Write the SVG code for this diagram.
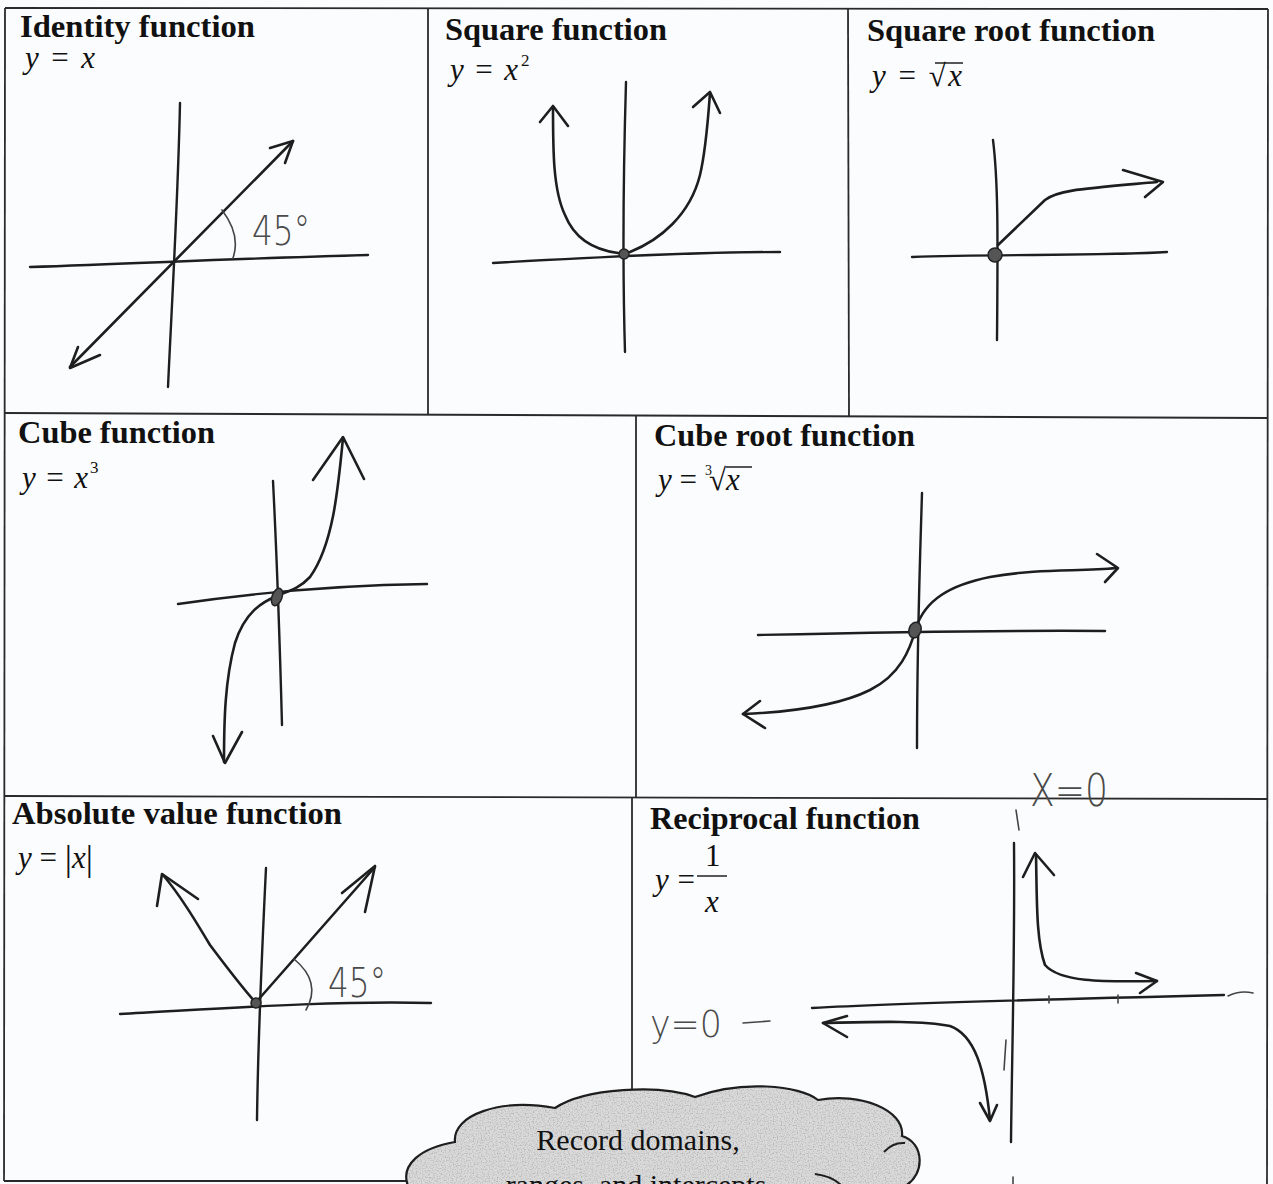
<svg xmlns="http://www.w3.org/2000/svg" width="1273" height="1184" viewBox="0 0 1273 1184">
<style>
.rule{fill:none;stroke:#2a2a2a;stroke-width:1.8}
.ax{fill:none;stroke:#1e1e1e;stroke-width:2.4;stroke-linecap:round;stroke-linejoin:round}
.cv{fill:none;stroke:#1e1e1e;stroke-width:2.6;stroke-linecap:round;stroke-linejoin:round}
.thin{fill:none;stroke:#444;stroke-width:1.6;stroke-linecap:round}
.title{font-family:"Liberation Serif",serif;font-weight:bold;font-size:31px;fill:#111}
.eq{font-family:"Liberation Serif",serif;font-size:31px;fill:#111}
.sm{font-size:17px}
.it{font-style:italic}
.hand{font-family:"DejaVu Sans",sans-serif;font-weight:200;fill:#4a4a4a}
.dot{fill:#555;stroke:#222;stroke-width:1.5}
.vin{stroke:#111;stroke-width:1.4}
</style>
<defs>
<filter id="grain" x="0" y="0" width="100%" height="100%">
<feTurbulence type="fractalNoise" baseFrequency="0.75" numOctaves="1" seed="7" result="n"/>
<feColorMatrix in="n" type="matrix" values="0 0 0 0 0.45  0 0 0 0 0.45  0 0 0 0 0.45  0 0 0 3.2 -1.5" result="d"/>
<feComposite in="d" in2="SourceGraphic" operator="in"/>
</filter>
</defs>
<rect width="1273" height="1184" fill="#fbfcfd"/>

<g id="grid">
<path class="rule" d="M5 8 L1268 9"/>
<path class="rule" d="M5 8 L4 1181"/>
<path class="rule" d="M1268 9 L1267 1184"/>
<path class="rule" d="M5 413 L1268 418"/>
<path class="rule" d="M4 796 L1268 799"/>
<path class="rule" d="M4 1181 L420 1181"/>
<path class="rule" d="M428 9 L428 415"/>
<path class="rule" d="M848 9 L849 417"/>
<path class="rule" d="M636 416 L636 798"/>
<path class="rule" d="M632 798 L632 1090"/>
</g>

<g id="identity">
<text class="title" x="20" y="37" textLength="235" lengthAdjust="spacingAndGlyphs">Identity function</text>
<text class="eq" x="25" y="68" textLength="70"><tspan class="it">y</tspan> = <tspan class="it">x</tspan></text>
<path class="ax" d="M180 103 C178 200 172 300 168 387"/>
<path class="ax" d="M30 267 C150 263 250 258 368 255"/>
<path class="cv" d="M70 367 L293 141"/>
<path class="cv" d="M270 148 L293 141 L285 163"/>
<path class="cv" d="M78 347 L70 368 L100 355"/>
<path class="thin" d="M222 210 Q241 235 233 258"/>
<text class="hand" x="252" y="245" font-size="40" textLength="58" lengthAdjust="spacingAndGlyphs">45°</text>
</g>

<g id="square">
<text class="title" x="445" y="40" textLength="222" lengthAdjust="spacingAndGlyphs">Square function</text>
<text class="eq" x="450" y="80" textLength="68"><tspan class="it">y</tspan> = <tspan class="it">x</tspan></text>
<text class="eq sm" x="521" y="66">2</text>
<path class="ax" d="M626 82 C624 150 622 250 625 352"/>
<path class="ax" d="M493 263 C580 258 700 252 780 252"/>
<path class="cv" d="M618 253 C595 250 575 240 565 215 C553 190 553 150 553 107"/>
<path class="cv" d="M540 122 L553 106 L568 126"/>
<path class="cv" d="M630 252 C660 240 690 215 700 175 C706 150 708 120 710 93"/>
<path class="cv" d="M693 107 L710 92 L720 113"/>
<circle class="dot" cx="624" cy="254" r="5"/>
</g>

<g id="squareroot">
<text class="title" x="867" y="41" textLength="288" lengthAdjust="spacingAndGlyphs">Square root function</text>
<text class="eq" x="872" y="86" textLength="90"><tspan class="it">y</tspan> = √<tspan class="it">x</tspan></text>
<path class="vin" d="M935 63 L963 63"/>
<path class="ax" d="M993 140 C998 180 998 230 997 340"/>
<path class="ax" d="M912 257 C1000 254 1100 256 1167 252"/>
<path class="cv" d="M998 245 L1045 200 C1058 190 1080 189 1157 182"/>
<path class="cv" d="M1123 170 L1163 182 L1145 197"/>
<circle class="dot" cx="995" cy="255" r="7"/>
</g>

<g id="cube">
<text class="title" x="18" y="443" textLength="197" lengthAdjust="spacingAndGlyphs">Cube function</text>
<text class="eq" x="22" y="488" textLength="66"><tspan class="it">y</tspan> = <tspan class="it">x</tspan></text>
<text class="eq sm" x="90" y="473">3</text>
<path class="ax" d="M273 481 C277 560 280 650 282 725"/>
<path class="ax" d="M178 604 C260 592 350 585 427 584"/>
<path class="cv" d="M343 438 C338 490 333 545 310 577 C298 590 285 592 277 596 C262 602 245 612 235 643 C225 680 224 720 224 762"/>
<path class="cv" d="M313 480 L343 437 L364 479"/>
<path class="cv" d="M213 736 L225 763 L242 732"/>
<ellipse class="dot" cx="277" cy="597" rx="5" ry="9" transform="rotate(20 277 597)"/>
</g>

<g id="cuberoot">
<text class="title" x="654" y="446" textLength="261" lengthAdjust="spacingAndGlyphs">Cube root function</text>
<text class="eq" x="658" y="490" textLength="39"><tspan class="it">y</tspan> =</text>
<text class="eq" x="705" y="475" style="font-size:14px">3</text>
<text class="eq" x="709" y="490"><tspan>√</tspan><tspan class="it">x</tspan></text>
<path class="vin" d="M726 467 L752 467"/>
<path class="ax" d="M922 493 C920 560 917 640 917 748"/>
<path class="ax" d="M758 635 C850 633 1000 630 1105 631"/>
<path class="cv" d="M743 714 C790 712 840 705 870 690 C900 675 910 650 916 628 C925 600 950 585 990 577 C1040 568 1080 572 1116 568"/>
<path class="cv" d="M1097 554 L1118 568 L1105 582"/>
<path class="cv" d="M760 701 L743 714 L765 728"/>
<ellipse class="dot" cx="915" cy="630" rx="6" ry="8" transform="rotate(20 915 630)"/>
</g>

<g id="absolute">
<text class="title" x="12" y="824" textLength="330" lengthAdjust="spacingAndGlyphs">Absolute value function</text>
<text class="eq" x="18" y="868"><tspan class="it">y</tspan> = <tspan style="font-size:36px" dy="2">|</tspan><tspan class="it" dy="-2">x</tspan><tspan style="font-size:36px" dy="2">|</tspan></text>
<path class="ax" d="M266 868 C262 950 258 1040 257 1120"/>
<path class="ax" d="M120 1014 C200 1010 330 1000 431 1003"/>
<path class="cv" d="M256 1003 C240 985 225 965 210 945 C195 920 180 895 163 875"/>
<path class="cv" d="M157 906 L162 874 L198 899"/>
<path class="cv" d="M258 1000 L375 867"/>
<path class="cv" d="M342 893 L375 866 L365 912"/>
<circle class="dot" cx="256" cy="1003" r="5"/>
<path class="thin" d="M294 959 Q322 982 306 1010"/>
<text class="hand" x="328" y="997" font-size="40" textLength="58" lengthAdjust="spacingAndGlyphs">45°</text>
</g>

<g id="reciprocal">
<text class="title" x="650" y="829" textLength="270" lengthAdjust="spacingAndGlyphs">Reciprocal function</text>
<text class="eq" x="655" y="890" textLength="40"><tspan class="it">y</tspan> =</text>
<text class="eq" x="705" y="866">1</text>
<path class="vin" d="M697 876 L727 876"/>
<text class="eq it" x="705" y="912">x</text>
<path class="ax" d="M1014 843 C1015 950 1012 1050 1011 1142"/>
<path class="thin" d="M1006 1040 L1004 1070"/>
<path class="ax" d="M812 1008 C900 1003 1100 998 1224 995"/>
<path class="thin" d="M1228 996 Q1240 990 1253 993"/>
<path class="thin" d="M1049 996 L1049 1003 M1118 995 L1118 1003"/>
<path class="cv" d="M1036 855 C1037 900 1036 940 1045 965 C1060 982 1100 982 1157 981"/>
<path class="cv" d="M1023 877 L1035 853 L1054 875"/>
<path class="cv" d="M1136 973 L1157 981 L1140 993"/>
<path class="cv" d="M823 1023 C870 1022 920 1020 950 1026 C975 1035 985 1070 990 1120"/>
<path class="cv" d="M980 1103 L990 1121 L997 1105"/>
<path class="cv" d="M847 1016 L823 1023 L847 1037"/>
<path class="thin" d="M1013 1177 L1013 1184"/>
<path class="thin" d="M1016 810 L1019 830"/>
<text class="hand" x="1030" y="806" font-size="44" textLength="78" lengthAdjust="spacingAndGlyphs">X=0</text>
<text class="hand" x="650" y="1037" font-size="38" textLength="72" lengthAdjust="spacingAndGlyphs">y=0</text>
<path class="thin" d="M743 1023 L770 1021" stroke-width="2"/>
</g>

<g id="note">
<path d="M408 1186 C400 1165 420 1148 455 1142 C452 1115 500 1098 555 1108 C585 1088 660 1084 695 1097 C740 1080 800 1085 818 1100 C860 1092 905 1110 902 1136 C925 1143 925 1175 905 1186 Z" fill="#dadada"/>
<path d="M408 1186 C400 1165 420 1148 455 1142 C452 1115 500 1098 555 1108 C585 1088 660 1084 695 1097 C740 1080 800 1085 818 1100 C860 1092 905 1110 902 1136 C925 1143 925 1175 905 1186 Z" fill="#000" filter="url(#grain)"/>
<path d="M408 1186 C400 1165 420 1148 455 1142 C452 1115 500 1098 555 1108 C585 1088 660 1084 695 1097 C740 1080 800 1085 818 1100 C860 1092 905 1110 902 1136 C925 1143 925 1175 905 1186" fill="none" stroke="#1e1e1e" stroke-width="2.2"/>
<path d="M815 1174 Q832 1176 842 1186 M884 1152 Q893 1142 905 1143" fill="none" stroke="#1e1e1e" stroke-width="2"/>
<text class="eq" x="638" y="1150" text-anchor="middle" style="font-size:30px">Record domains,</text>
<text class="eq" x="636" y="1195" text-anchor="middle" style="font-size:30px">ranges, and intercepts</text>
</g>
</svg>
